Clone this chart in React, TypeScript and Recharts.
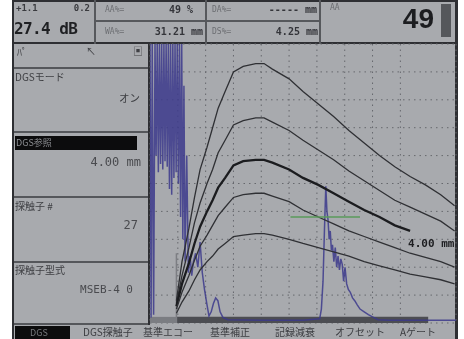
import { LineChart, Line, XAxis, YAxis, CartesianGrid, ReferenceLine, ReferenceArea } from "recharts";

// screen divisions (horizontal: 11 divisions of 10, vertical: % of screen height)
const GRID_X = [0, 10, 20, 30, 40, 50, 60, 70, 80, 90, 100, 110];
const GRID_Y = [0, 10, 20, 30, 40, 50, 60, 70, 80, 90, 100];

// DGS curves, sampled at the same depths
const DEPTH = [9.5, 11.5, 14, 16, 18, 20.5, 22.5, 24.5, 27, 30, 33.5, 38, 41, 44, 50, 55, 60.5, 66, 71.5, 77, 82.5, 88, 93.5, 99, 104.5, 109.5];
const CURVE_1 = [8, 22, 34, 45, 55, 63, 70, 77, 83, 90, 92, 93, 93, 91, 87.5, 83, 78.5, 74, 69, 64.5, 60, 56, 52.5, 49.5, 46, 42];
const CURVE_2 = [7, 17, 27, 36, 43, 50, 55, 61, 65.5, 71, 72.5, 73.5, 73.5, 72, 69, 65.5, 62, 58.5, 54.5, 51, 47.5, 44, 41.5, 39, 36.5, 33];
const CURVE_REF = [6, 14, 21.5, 28.5, 34.5, 40, 44, 48.5, 52, 56.5, 58, 58.5, 58.5, 57.5, 55, 52, 49.5, 46.5, 43.5, 40.5, 38, 35, 33];
const CURVE_4 = [5, 11, 17, 22.5, 27.5, 31.5, 35, 38.5, 41.5, 45, 46, 46.5, 46.5, 45.5, 43.5, 40.5, 38, 35.5, 33, 31, 29, 27, 25, 23.5, 22, 20];
const CURVE_5 = [3.5, 7.5, 11.5, 15.5, 19, 22, 24, 26.5, 28.5, 31, 31.5, 32, 32, 31.5, 30, 28.5, 27, 25.5, 24, 22, 20.5, 19, 17.5, 16.5, 15.5, 14];
const REF_LABEL = "4.00 mm";

// A-scan echo
const ECHO_X = [
  0, 0.4, 0.8, 1.3, 1.8, 2.2, 2.6, 3, 3.4, 3.8, 4.2, 4.6, 5, 5.4, 5.8, 6.2, 6.6, 7, 7.4, 7.8, 8.2, 8.6, 9, 9.4, 9.8, 10.2, 10.6, 11, 11.4, 11.8, 12.2, 12.6,
  13.2, 13.8, 14.4, 15, 15.6, 16.4, 17.2, 18, 18.8, 19.6, 20.4, 21.2, 22, 22.8, 23.6, 24.4, 25.2, 26.2, 28, 40, 55,
  61, 61.6, 62.2, 62.7, 63.2, 63.6, 64, 64.4, 64.8, 65.2, 65.6, 66.1, 66.6, 67.1, 67.6, 68.1, 68.6, 69.1, 69.6, 70.1, 70.7, 71.3, 72, 72.8, 73.6, 74.5, 75.5, 77, 78.5, 80, 82, 86, 110,
];
const ECHO_Y = [
  100, 2, 100, 3, 100, 60, 100, 54, 100, 57, 100, 55, 100, 58, 100, 56, 100, 48, 100, 46, 100, 52, 100, 54, 100, 50, 100, 38, 100, 30, 85, 22,
  60, 18, 24, 17, 22, 25, 20, 29, 18, 12, 7, 2.5, 4, 7, 9, 8, 4, 2, 1.2, 1, 1,
  1.5, 5, 15, 33, 49, 40, 37, 30, 33, 26, 28, 22, 27, 20, 24, 19, 23, 21, 15, 20, 14, 12, 11, 9, 8, 6.5, 5, 4, 3, 2.2, 1.2, 1, 1,
];

// gate A
const GATE_START = 50.5;
const GATE_END = 75.5;
const GATE_LEVEL = 38;
const MARKER_X = 9.5;
const MARKER_TOP = 25;

const MENU = ["DGS探触子", "基準エコー", "基準補正", "記録減衰", "オフセット", "Aゲート"];
const MENU_LEFT = [83, 143, 210, 275, 335, 400];

const toRows = (ys: number[]) => ys.map((y, i) => ({ x: DEPTH[i], y }));
const echoRows = ECHO_X.map((x, i) => ({ x, y: ECHO_Y[i] }));

const CURVE_COLOR = "#2f3034";
const BG = "#a8aaae";
const DARK = "#2e2f33";
const MONO = "'DejaVu Sans Mono', monospace";
const JP = "'Noto Sans CJK JP', sans-serif";

const box = (left: number, top: number, width: number, height: number, bg: string) => (
  <div style={{ position: "absolute", left, top, width, height, background: bg }} />
);

const txt = (text: string, style: React.CSSProperties) => (
  <div style={{ position: "absolute", whiteSpace: "nowrap", lineHeight: 1, ...style }}>{text}</div>
);

const RefLabel = (props: any) => {
  const { x, y, index } = props;
  if (index !== CURVE_REF.length - 1) return null;
  return (
    <text x={x - 2} y={y + 16} fontFamily={MONO} fontWeight="bold" fontSize={11} fill="#1d1e21">
      {REF_LABEL}
    </text>
  );
};

export default function App() {
  return (
    <div style={{ position: "absolute", left: 0, top: 0, width: 464, height: 339, background: "#fff", overflow: "hidden", filter: "blur(0.35px)" }}>
      {box(12, 0, 446, 339, BG)}
      {/* frame */}
      {box(12, 0, 446, 2, DARK)}
      {box(12, 0, 2, 339, DARK)}
      {box(455, 0, 3, 339, DARK)}
      {box(12, 42, 446, 2, DARK)}

      {/* header */}
      {box(94, 0, 2, 44, "#56585c")}
      {box(205, 0, 2, 44, "#56585c")}
      {box(319, 0, 2, 44, "#56585c")}
      {box(94, 20, 226, 2, "#56585c")}
      {txt("+1.1", { left: 16, top: 4, fontFamily: MONO, fontSize: 9, fontWeight: "bold", color: "#3a3b3f" })}
      {txt("0.2", { right: 464 - 90, top: 4, fontFamily: MONO, fontSize: 9, fontWeight: "bold", color: "#3a3b3f" })}
      {txt("27.4 dB", { left: 14, top: 21, fontFamily: MONO, fontSize: 16, fontWeight: "bold", letterSpacing: -0.6, color: "#1f2023" })}
      {txt("AA%=", { left: 105, top: 6, fontFamily: MONO, fontSize: 8, color: "#6c6e72" })}
      {txt("49 %", { right: 464 - 193, top: 5, fontFamily: MONO, fontSize: 10, fontWeight: "bold", color: "#34353a" })}
      {txt("WA%=", { left: 105, top: 28, fontFamily: MONO, fontSize: 8, color: "#6c6e72" })}
      {txt("31.21 mm", { right: 464 - 203, top: 27, fontFamily: MONO, fontSize: 10, fontWeight: "bold", color: "#34353a" })}
      {txt("DA%=", { left: 212, top: 6, fontFamily: MONO, fontSize: 8, color: "#6c6e72" })}
      {txt("----- mm", { right: 464 - 317, top: 5, fontFamily: MONO, fontSize: 10, fontWeight: "bold", color: "#34353a" })}
      {txt("DS%=", { left: 212, top: 28, fontFamily: MONO, fontSize: 8, color: "#6c6e72" })}
      {txt("4.25 mm", { right: 464 - 318, top: 27, fontFamily: MONO, fontSize: 10, fontWeight: "bold", color: "#34353a" })}
      {txt("AA", { left: 330, top: 4, fontFamily: MONO, fontSize: 8, color: "#6c6e72" })}
      {txt("49", { right: 464 - 434, top: 5, fontFamily: "'Liberation Sans', sans-serif", fontSize: 28, fontWeight: "bold", color: "#1c1d20" })}
      {box(441, 4, 10, 33, "#55575b")}

      {/* left panel */}
      {box(148, 44, 2, 281, DARK)}
      {box(14, 67, 134, 2, "#55575b")}
      {box(14, 131, 134, 2, "#55575b")}
      {box(14, 196, 134, 2, "#55575b")}
      {box(14, 261, 134, 2, "#55575b")}
      {box(14, 323, 134, 2, "#55575b")}
      {txt("ﾊﾟ", { left: 17, top: 47, fontFamily: JP, fontSize: 10, color: "#404145" })}
      {txt("↖", { left: 86, top: 46, fontFamily: JP, fontSize: 10, color: "#404145" })}
      {txt("▣", { left: 133, top: 46, fontFamily: JP, fontSize: 10, color: "#404145" })}
      {txt("DGSモード", { left: 15, top: 72, fontFamily: JP, fontSize: 10, color: "#3d3e42" })}
      {txt("オン", { right: 464 - 140, top: 93, fontFamily: JP, fontSize: 10.5, color: "#3d3e42" })}
      {box(15, 136, 122, 14, "#0c0c0d")}
      {txt("DGS参照", { left: 16, top: 138, fontFamily: JP, fontSize: 9, color: "#8d8f93" })}
      {txt("4.00 mm", { right: 464 - 141, top: 156, fontFamily: MONO, fontSize: 12, color: "#4a4b4f" })}
      {txt("探触子 #", { left: 15, top: 201, fontFamily: JP, fontSize: 10, color: "#3d3e42" })}
      {txt("27", { right: 464 - 138, top: 219, fontFamily: MONO, fontSize: 12, color: "#4a4b4f" })}
      {txt("探触子型式", { left: 15, top: 265, fontFamily: JP, fontSize: 10, color: "#3d3e42" })}
      {txt("MSEB-4 0", { right: 464 - 133, top: 284, fontFamily: MONO, fontSize: 11, color: "#4a4b4f" })}

      {/* menu bar */}
      {box(15, 326, 55, 13, "#0c0c0d")}
      {txt("DGS", { left: 30, top: 328, fontFamily: JP, fontSize: 9, color: "#77797d" })}
      {MENU.map((m, i) => (
        <div key={m}>{txt(m, { left: MENU_LEFT[i], top: 327, fontFamily: JP, fontSize: 10, color: "#3b3c40" })}</div>
      ))}

      <div style={{ position: "absolute", left: 0, top: 0 }}>
        <LineChart width={464} height={339} margin={{ top: 44, right: 8, bottom: 16, left: 150 }}>
          <XAxis type="number" dataKey="x" domain={[0, 110]} ticks={GRID_X} hide allowDataOverflow />
          <YAxis type="number" dataKey="y" domain={[0, 100]} ticks={GRID_Y} hide allowDataOverflow />
          <CartesianGrid stroke="#66686d" strokeDasharray="1.5 4" />
          <ReferenceArea x1={0} x2={MARKER_X} y1={0} y2={2.2} fill="#7b7d82" fillOpacity={1} stroke="none" />
          <ReferenceArea x1={MARKER_X} x2={100} y1={0} y2={2.2} fill="#4c4d52" fillOpacity={1} stroke="none" />
          <ReferenceLine segment={[{ x: MARKER_X, y: 0 }, { x: MARKER_X, y: MARKER_TOP }]} stroke="#7c7e83" strokeWidth={1.5} />
          <Line data={echoRows} dataKey="y" stroke="#3c3a8c" strokeWidth={1.5} strokeOpacity={0.85} dot={false} isAnimationActive={false} />
          <Line data={toRows(CURVE_1)} dataKey="y" stroke={CURVE_COLOR} strokeWidth={1.3} dot={false} isAnimationActive={false} />
          <Line data={toRows(CURVE_2)} dataKey="y" stroke={CURVE_COLOR} strokeWidth={1.3} dot={false} isAnimationActive={false} />
          <Line data={toRows(CURVE_REF)} dataKey="y" stroke="#1b1c1f" strokeWidth={2.3} dot={false} isAnimationActive={false} label={<RefLabel />} />
          <Line data={toRows(CURVE_4)} dataKey="y" stroke={CURVE_COLOR} strokeWidth={1.3} dot={false} isAnimationActive={false} />
          <Line data={toRows(CURVE_5)} dataKey="y" stroke={CURVE_COLOR} strokeWidth={1.3} dot={false} isAnimationActive={false} />
          <ReferenceLine segment={[{ x: GATE_START, y: GATE_LEVEL }, { x: GATE_END, y: GATE_LEVEL }]} stroke="#5a9a5a" strokeWidth={1.3} />
        </LineChart>
      </div>
    </div>
  );
}
